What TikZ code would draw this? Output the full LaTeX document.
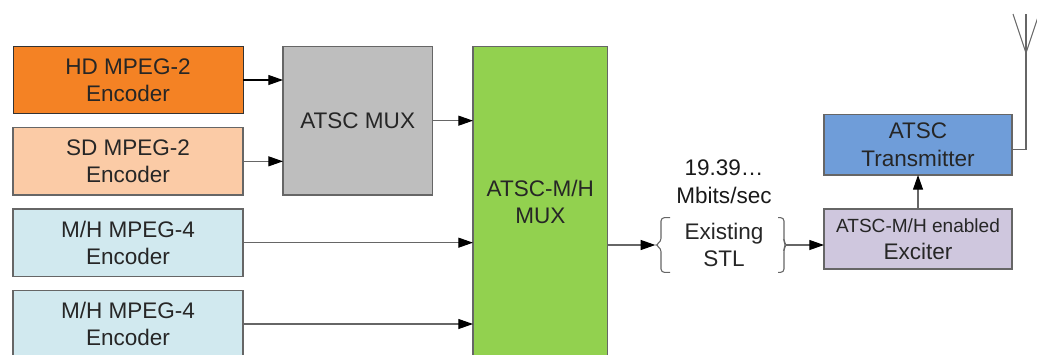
\documentclass[tikz,border=0pt]{standalone}
\usepackage{fontspec}
\setmainfont{Liberation Sans}
\usepackage{tikz}
\usetikzlibrary{arrows.meta,positioning,calc}
\definecolor{hdorange}{HTML}{F48224}
\definecolor{sdpeach}{HTML}{FBCBA6}
\definecolor{mhblue}{HTML}{D1E9EF}
\definecolor{muxgray}{HTML}{BEBEBE}
\definecolor{mhgreen}{HTML}{92D14F}
\definecolor{txblue}{HTML}{6F9DD9}
\definecolor{excpurple}{HTML}{CFC7DE}
\definecolor{edgegray}{HTML}{666666}

\begin{document}
\begin{tikzpicture}[
  x=0.75pt, y=0.75pt,
  node distance=10.5pt and 30pt,
  block/.style={draw=edgegray, line width=1pt, minimum height=50.5pt, minimum width=172.5pt, align=center, outer sep=0pt, inner sep=0pt, text=black!85, font=\fontsize{16.9}{20.5}\selectfont},
  encoder/.style={block, fill=mhblue},
  mux/.style={block, minimum width=112pt, minimum height=111.5pt, fill=muxgray},
  flow/.style={-{Triangle[length=11pt,width=7.5pt,black]}, line width=0.8pt, draw=edgegray},
  wire/.style={line width=0.8pt, draw=edgegray},
  bracket/.style={wire, rounded corners=2.5pt},
]
\useasboundingbox (0,0) rectangle (1037,-354);

% Left column: encoders
\node[block, fill=hdorange, draw=black!80, line width=0.7pt] (hd) at (128,-80) {HD MPEG-2\\Encoder};
\node[block, fill=sdpeach, below=of hd] (sd) {SD MPEG-2\\Encoder};
\node[encoder, below=of sd] (mha) {M/H MPEG-4\\Encoder};
\node[encoder, below=of mha] (mhb) {M/H MPEG-4\\Encoder};

% Multiplexers
\node[mux, right=30pt of hd.north east, anchor=north west] (atscmux) {ATSC MUX};
\node[mux, fill=mhgreen, minimum width=101pt, minimum height=233pt, right=30.5pt of atscmux.north east, anchor=north west] (mhmux) {ATSC-M/H\\MUX};

% STL with its braces
\node[minimum width=81pt, minimum height=41pt, align=center, inner sep=0pt, outer sep=0pt, text=black!85, font=\fontsize{16.9}{20.5}\selectfont] (stl) at (724,-245) {Existing\\STL};
\node[above=10.5pt of stl, align=center, inner sep=0pt, text=black!90, font=\fontsize{16.9}{20.5}\selectfont] (rate) {19.39…\\Mbits/sec};
\coordinate[left=11pt of stl.west] (stlin);
\coordinate[right=6pt of stl.east] (stlout);
\draw[bracket] (stl.north west) -- ++(-6.75pt,0) -- ($(stl.west)+(-6.75pt,2.5pt)$) -- (stlin) -- ($(stl.west)+(-6.75pt,-2.5pt)$) -- ($(stl.south west)+(-6.75pt,0)$) -- (stl.south west);
\draw[bracket] (stl.north east) -- ++(4.5pt,0) -- ($(stl.east)+(4.5pt,2.5pt)$) -- (stlout) -- ($(stl.east)+(4.5pt,-2.5pt)$) -- ($(stl.south east)+(4.5pt,0)$) -- (stl.south east);

% Transmitter chain
\node[block, fill=excpurple, minimum width=141pt, minimum height=45pt] (exciter) at (918,-239) {{\fontsize{14.3}{17}\selectfont ATSC-M/H enabled}\\Exciter};
\node[block, fill=txblue, minimum width=141pt, minimum height=45.5pt, above=25.5pt of exciter] (tx) {ATSC\\Transmitter};

% Antenna
\coordinate (antbase) at (1026,-53);
\coordinate (antport) at ($(tx.east)+(0,-3.5pt)$);
\coordinate (antleft) at (1013,-14);
\coordinate (antmid) at (1026,-14);
\coordinate (antright) at (1039,-14);

% Flows
\draw[flow, draw=black] (hd) -- (hd -| atscmux.west);
\draw[flow] (sd) -- (sd -| atscmux.west);
\draw[flow] (atscmux) -- (atscmux -| mhmux.west);
\draw[flow] (mha) -- (mha -| mhmux.west);
\draw[flow] (mhb) -- (mhb -| mhmux.west);
\draw[flow] (stlin -| mhmux.east) -- (stlin);
\draw[flow] (stlout) -- (stlout -| exciter.west);
\draw[flow] (exciter) -- (tx);
\draw[wire] (antport) -| (antbase);
\draw[wire] (antleft) -- (antbase) -- (antright);
\draw[wire] (antmid) -- (antbase);
\end{tikzpicture}
\end{document}
